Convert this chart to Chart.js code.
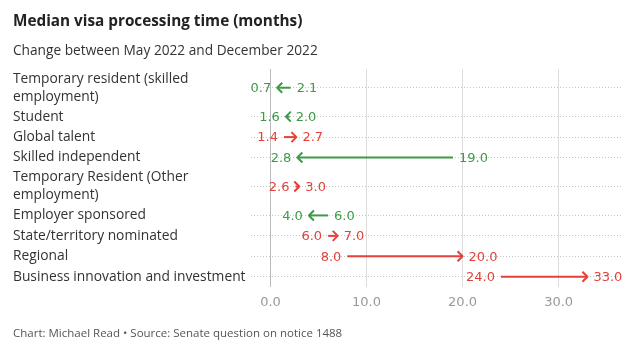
<!DOCTYPE html>
<html>
<head>
<meta charset="utf-8">
<script src="https://cdn.jsdelivr.net/npm/chart.js@4"></script>
<style>
  body { margin: 0; background: #fff; }
  #page { position: relative; width: 642px; height: 350px; overflow: hidden; font-family: "Open Sans", sans-serif; }
  #title { position: absolute; left: 13px; top: 10px; font-size: 15.3px; line-height: 20px; font-weight: bold; color: #222; }
  #subtitle { position: absolute; left: 13px; top: 41px; font-size: 13.7px; line-height: 18px; color: #333; }
  #footer { position: absolute; left: 13px; top: 325px; font-size: 11.5px; line-height: 16px; color: #555; }
  #wrap { position: absolute; left: 0; top: 0; width: 642px; height: 350px; }
</style>
</head>
<body>
<div id="page">
  <div id="wrap"><canvas id="chart"></canvas></div>
  <div id="title">Median visa processing time (months)</div>
  <div id="subtitle">Change between May 2022 and December 2022</div>
  <div id="footer">Chart: Michael Read • Source: Senate question on notice 1488</div>
</div>
<script>
// Visa categories, top to bottom
const categories = [
    'Temporary resident (skilled employment)',
    'Student',
    'Global talent',
    'Skilled independent',
    'Temporary Resident (Other employment)',
    'Employer sponsored',
    'State/territory nominated',
    'Regional',
    'Business innovation and investment'
];
// Median processing time, months
const may2022 = [2.1, 2.0, 1.4, 19.0, 2.6, 6.0, 6.0, 8.0, 24.0];
const dec2022 = [0.7, 1.6, 2.7, 2.8, 3.0, 4.0, 7.0, 20.0, 33.0];
const xTicks = [0, 10, 20, 30];

const GREEN = '#3d9a46';
const RED = '#e5413a';
const labelFont = '13.8px "Open Sans", sans-serif';

// wrap long labels onto two lines like the original
function wrapLabel(text, maxWidth) {
    const ctx = document.createElement('canvas').getContext('2d');
    ctx.font = labelFont;
    const words = text.split(' ');
    const lines = [];
    let line = '';
    words.forEach(w => {
        const test = line ? line + ' ' + w : w;
        if (ctx.measureText(test).width > maxWidth && line) {
            lines.push(line);
            line = w;
        } else {
            line = test;
        }
    });
    lines.push(line);
    return lines;
}

const wrapped = categories.map(c => wrapLabel(c, 236));

// rows with two-line labels get more room
const rowPos = [];
let total = 0;
wrapped.forEach(lines => {
    const h = 1 + (lines.length - 1) * 0.83;
    rowPos.push(total + h / 2);
    total += h;
});

const arrowPlugin = {
    id: 'arrows',
    afterDatasetsDraw(chart) {
        const ctx = chart.ctx;
        const xs = chart.scales.x, ys = chart.scales.y;
        ctx.save();
        ctx.font = '13px "DejaVu Sans", sans-serif';
        ctx.textBaseline = 'middle';
        ctx.lineWidth = 2;
        ctx.lineJoin = 'round';
        categories.forEach((c, i) => {
            const x0 = xs.getPixelForValue(may2022[i]);
            const x1 = xs.getPixelForValue(dec2022[i]);
            const y = ys.getPixelForValue(rowPos[i]);
            const dir = x1 > x0 ? 1 : -1;
            const col = dir > 0 ? RED : GREEN;
            ctx.strokeStyle = col;
            ctx.fillStyle = col;

            ctx.beginPath();
            ctx.moveTo(x0, y);
            ctx.lineTo(x1 - dir, y);
            ctx.stroke();

            ctx.beginPath();
            ctx.moveTo(x1 - dir * 5, y - 5);
            ctx.lineTo(x1, y);
            ctx.lineTo(x1 - dir * 5, y + 5);
            ctx.stroke();

            ctx.textAlign = dir > 0 ? 'right' : 'left';
            ctx.fillText(may2022[i].toFixed(1), x0 - dir * 6, y + 1);
            ctx.textAlign = dir > 0 ? 'left' : 'right';
            ctx.fillText(dec2022[i].toFixed(1), x1 + dir * 6, y + 1);
        });
        ctx.restore();
    }
};

new Chart(document.getElementById('chart'), {
    type: 'scatter',
    data: {
        datasets: [
            { label: 'May 2022', data: may2022.map((v, i) => ({ x: v, y: rowPos[i] })), pointRadius: 0 },
            { label: 'December 2022', data: dec2022.map((v, i) => ({ x: v, y: rowPos[i] })), pointRadius: 0 }
        ]
    },
    options: {
        responsive: true,
        maintainAspectRatio: false,
        animation: false,
        layout: { padding: { top: 69, left: 13, right: 20, bottom: 33 } },
        plugins: { legend: { display: false }, tooltip: { enabled: false } },
        scales: {
            x: {
                type: 'linear',
                min: -2.08,
                max: 36.6,
                afterBuildTicks: scale => { scale.ticks = xTicks.map(v => ({ value: v })); },
                afterFit: scale => { scale.height = 30; },
                ticks: {
                    callback: v => v.toFixed(1),
                    color: '#999',
                    font: { family: 'DejaVu Sans', size: 13 },
                    padding: 8,
                    maxRotation: 0
                },
                grid: {
                    drawTicks: false,
                    color: ctx => (ctx.tick && ctx.tick.value === 0) ? '#bbb' : '#ddd',
                    lineWidth: 1
                },
                border: { display: false }
            },
            y: {
                type: 'linear',
                reverse: true,
                min: 0,
                max: total,
                afterBuildTicks: scale => { scale.ticks = rowPos.map(v => ({ value: v })); },
                afterFit: scale => { scale.width = 237.5; },
                ticks: {
                    callback: (v, i) => wrapped[i],
                    autoSkip: false,
                    crossAlign: 'far',
                    color: '#333',
                    font: { family: 'Open Sans', size: 13.8, lineHeight: 1.3 },
                    padding: 4
                },
                grid: {
                    drawTicks: false,
                    color: '#c4c4c4',
                    lineWidth: 1
                },
                border: { display: false, dash: [1, 2] }
            }
        }
    },
    plugins: [arrowPlugin]
});
</script>
</body>
</html>
